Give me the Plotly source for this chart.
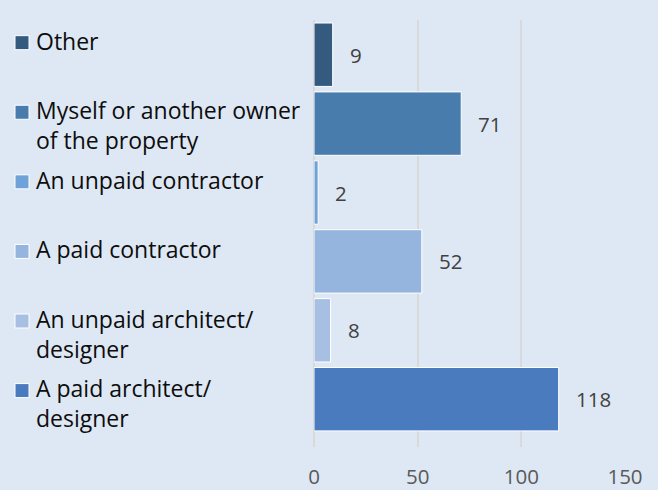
import plotly.graph_objects as go

# Who carried out the work (bottom row first)
categories = [
    "A paid architect/<br>designer",
    "An unpaid architect/<br>designer",
    "A paid contractor",
    "An unpaid contractor",
    "Myself or another owner<br>of the property",
    "Other",
]
values = [118, 8, 52, 2, 71, 9]
colors = ["#4a7bbf", "#a6bfe3", "#95b4de", "#6fa2d8", "#487cac", "#345a7f"]
tick_values = [0, 50, 100, 150]
tick_labels = ["0", "50", "100", "150"]

W, H = 658, 490
M_L, M_R, M_T, M_B = 314, 33, 20, 43
BG = "#dee8f4"
FONT = "Open Sans"
LABEL_SIZE = 23
TICK_SIZE = 20.5

# y-axis in row units; one row ~ 69 px
Y_MIN, Y_MAX = -0.694, 5.504
plot_h = H - M_T - M_B
px_per_row = plot_h / (Y_MAX - Y_MIN)
plot_w = W - M_L - M_R


def paper_x(px):
    return (px - M_L) / plot_w


fig = go.Figure()

for i, (name, v, c) in enumerate(zip(categories, values, colors)):
    fig.add_trace(go.Bar(
        x=[v], y=[i], orientation="h", name=name.replace("<br>", " "),
        width=0.92,
        marker=dict(color=c, line=dict(color="white", width=1)),
        showlegend=False, hoverinfo="x",
    ))
    # value label right of the bar
    fig.add_annotation(
        x=v, y=i, xref="x", yref="y", text=str(v), showarrow=False,
        xanchor="left", yanchor="middle", xshift=15,
        font=dict(family=FONT, size=TICK_SIZE, color="#404040"),
    )

# left-hand key: coloured square + wrapped category text
line_h = 1.3 * LABEL_SIZE / px_per_row
for i, (name, c) in enumerate(zip(categories, colors)):
    first_line = i + 0.155 + 0.01 * i
    n_lines = name.count("<br>") + 1
    sq = 14 / px_per_row / 2
    fig.add_shape(
        type="rect", xref="paper", yref="y",
        x0=paper_x(15), x1=paper_x(29), y0=first_line - 0.03 - sq,
        y1=first_line - 0.03 + sq,
        fillcolor=c, line=dict(color="white", width=1), layer="above",
    )
    fig.add_annotation(
        x=paper_x(34), y=first_line - (n_lines - 1) * line_h / 2,
        xref="paper", yref="y", text=name, showarrow=False,
        xanchor="left", yanchor="middle", align="left",
        font=dict(family=FONT, size=LABEL_SIZE, color="#0d0d0d"),
    )

fig.update_layout(
    width=W, height=H,
    margin=dict(l=M_L, r=M_R, t=M_T, b=M_B),
    paper_bgcolor=BG, plot_bgcolor=BG,
    barmode="overlay",
    showlegend=False,
    xaxis=dict(
        range=[0, 150], tickvals=tick_values, ticktext=tick_labels,
        showgrid=True, gridcolor="#d9d9d9", gridwidth=2,
        zeroline=True, zerolinecolor="#d9d9d9", zerolinewidth=2,
        showline=False, ticks="outside", ticklen=11, tickcolor=BG,
        tickfont=dict(family=FONT, size=TICK_SIZE, color="#595959"),
        automargin=False, fixedrange=True,
    ),
    yaxis=dict(
        range=[Y_MIN, Y_MAX], showgrid=False, zeroline=False,
        showticklabels=False, ticks="", showline=False,
        automargin=False, fixedrange=True,
    ),
)

fig.write_html("out.html")
